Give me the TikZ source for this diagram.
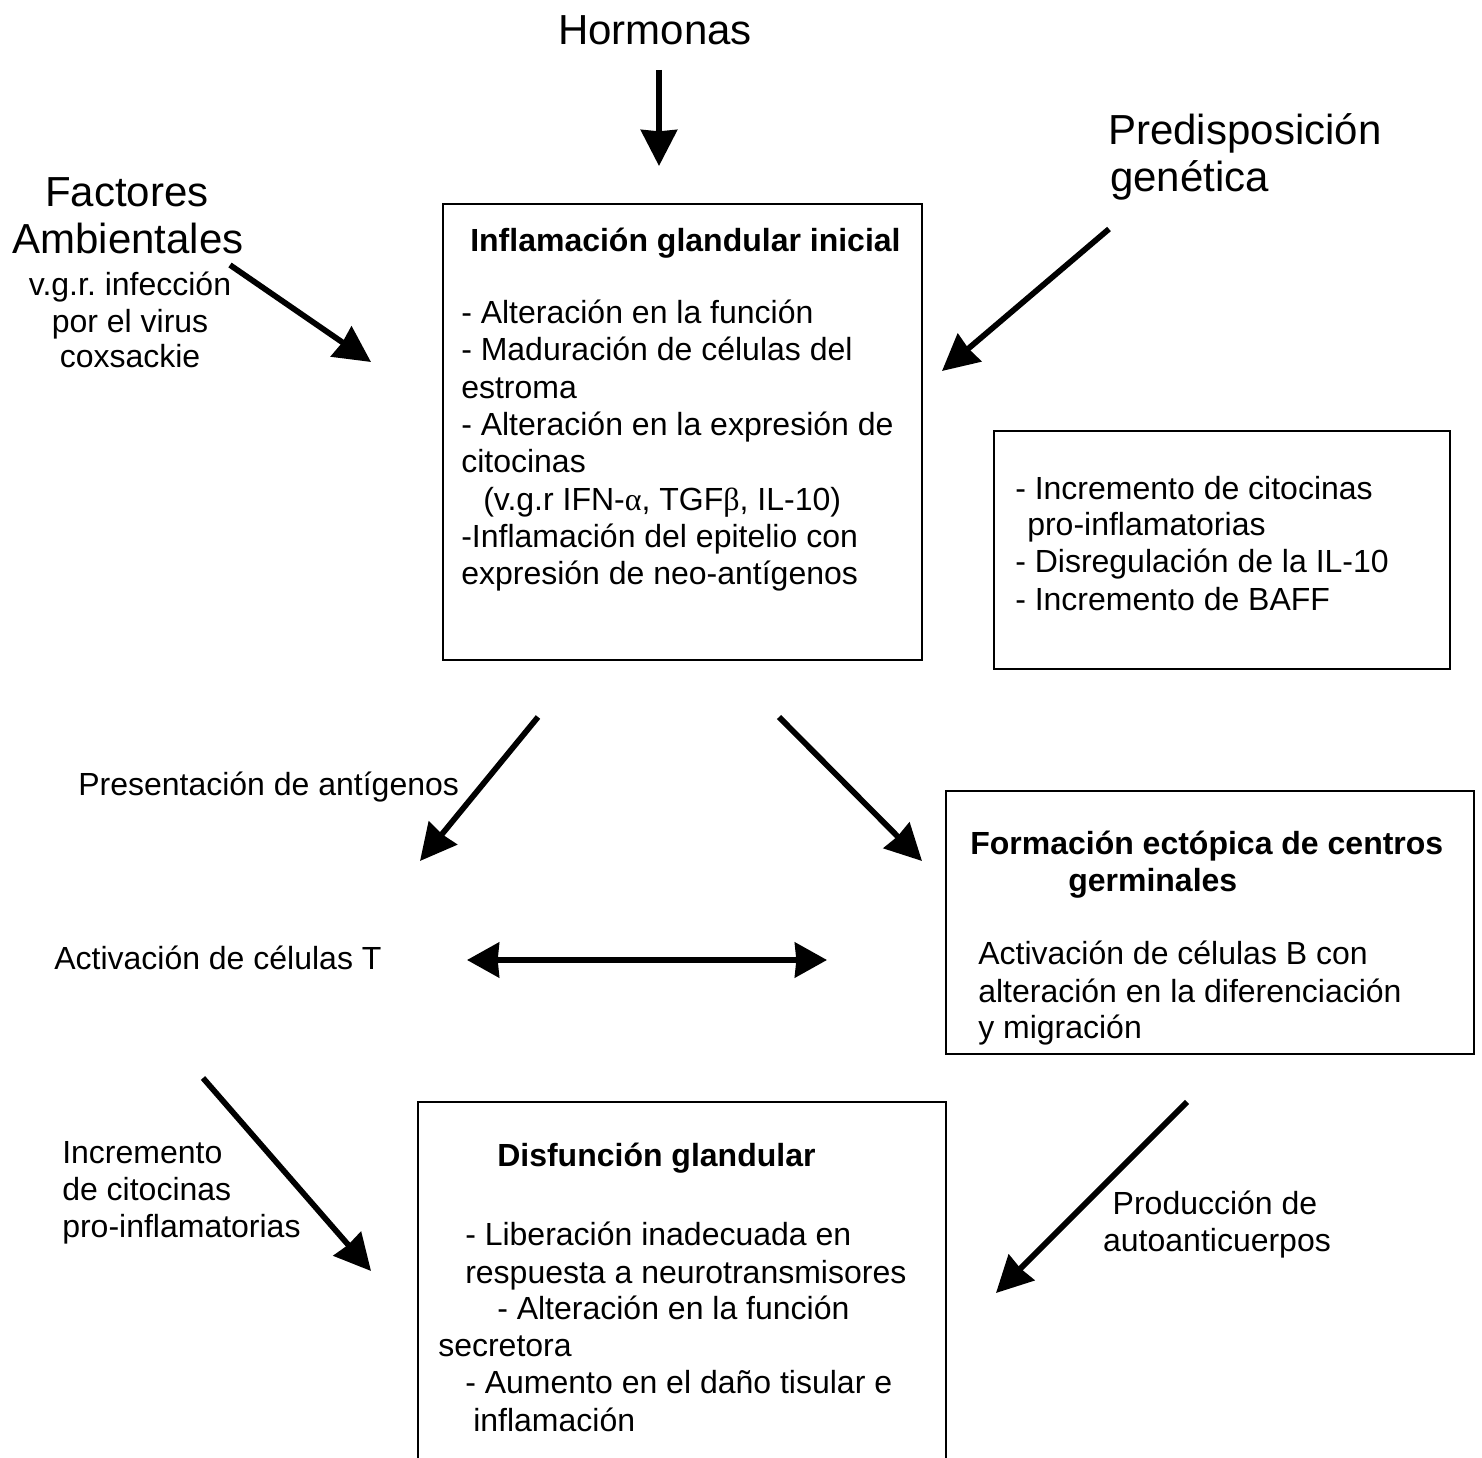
\documentclass[tikz,border=0pt]{standalone}
\usepackage{fontspec}
\setmainfont{Liberation Sans}
\newfontfamily\grk{Liberation Serif}
\usetikzlibrary{arrows.meta}
\frenchspacing
\newcommand\bodyf{\fontsize{24}{28}\selectfont}
\newcommand\bigf{\fontsize{31.5}{36}\selectfont}
\tikzset{
  txt/.style={inner sep=0pt, anchor=base west, font=\bodyf},
  ctxt/.style={inner sep=0pt, anchor=base, font=\bodyf},
  btxt/.style={inner sep=0pt, anchor=base west, font=\bodyf\bfseries},
  bigtxt/.style={inner sep=0pt, font=\bigf},
  boxframe/.style={draw, line width=1pt, inner sep=0pt},
  heavy/.style={line width=4.3pt, -{Stealth[length=27pt, width=27pt, inset=1pt]}},
  heavyboth/.style={line width=4.3pt, {Stealth[length=24pt, width=26pt, inset=1pt]}-{Stealth[length=24pt, width=26pt, inset=1pt]}}
}
\begin{document}
\begin{tikzpicture}[x=0.75pt, y=-0.75pt]
\useasboundingbox (0,0) rectangle (1482,1458);
\clip (0,0) rectangle (1482,1458);

% top labels
\node[bigtxt, anchor=base] (horm) at (655,45) {Hormonas};
\node[bigtxt, anchor=base] (fac1) at (127,207) {Factores};
\node[bigtxt, anchor=base] (fac2) at (128,254) {Ambientales};
\node[ctxt] (fac3) at (130,296) {v.g.r. infección};
\node[ctxt] (fac4) at (130,333) {por el virus};
\node[ctxt] (fac5) at (130,368) {coxsackie};
\node[bigtxt, anchor=base west] (pre1) at (1108,145) {Predisposición};
\node[bigtxt, anchor=base west] (pre2) at (1110,192) {genética};

% box 1
\draw[boxframe] (443,204) rectangle (922,660);
\node[btxt] (b1t) at (470,252) {Inflamación glandular inicial};
\node[txt] (b1a) at (461,324) {- Alteración en la función};
\node[txt] (b1b) at (461,361) {- Maduración de células del};
\node[txt] (b1c) at (461,399) {estroma};
\node[txt] (b1d) at (461,436) {- Alteración en la expresión de};
\node[txt] (b1e) at (461,473) {citocinas};
\node[txt] (b1f) at (483,511) {(v.g.r IFN-{\grk α}, TGF{\grk β}, IL-10)};
\node[txt] (b1g) at (461,548) {-Inflamación del epitelio con};
\node[txt] (b1h) at (461,585) {expresión de neo-antígenos};

% box 2
\draw[boxframe] (994,431) rectangle (1450,669);
\node[txt] (b2a) at (1015,500) {- Incremento de citocinas};
\node[txt] (b2b) at (1027,536) {pro-inflamatorias};
\node[txt] (b2c) at (1015,573) {- Disregulación de la IL-10};
\node[txt] (b2d) at (1015,611) {- Incremento de BAFF};

% middle
\node[txt] (pres) at (78,795) {Presentación de antígenos};
\node[txt] (actT) at (54,969) {Activación de células T};

% box 3
\draw[boxframe] (946,791) rectangle (1474,1054);
\node[btxt] (b3t) at (970,854) {Formación ectópica de centros};
\node[btxt] (b3u) at (1068,891) {germinales};
\node[txt] (b3a) at (978,964) {Activación de células B con};
\node[txt] (b3b) at (978,1002) {alteración en la diferenciación};
\node[txt] (b3c) at (978,1038) {y migración};

% lower left label
\node[txt] (inc1) at (62,1163) {Incremento};
\node[txt] (inc2) at (62,1200) {de citocinas};
\node[txt] (inc3) at (62,1237) {pro-inflamatorias};

% box 4
\draw[boxframe] (418,1475) -- (418,1102) -- (946,1102) -- (946,1475);
\node[btxt] (b4t) at (497,1166) {Disfunción glandular};
\node[txt] (b4a) at (465,1245) {- Liberación inadecuada en};
\node[txt] (b4b) at (465,1283) {respuesta a neurotransmisores};
\node[txt] (b4c) at (497,1319) {- Alteración en la función};
\node[txt] (b4d) at (438,1356) {secretora};
\node[txt] (b4e) at (465,1393) {- Aumento en el daño tisular e};
\node[txt] (b4f) at (473,1431) {inflamación};

% lower right label
\node[ctxt] (prod1) at (1215,1214) {Producción de};
\node[ctxt] (prod2) at (1217,1251) {autoanticuerpos};

% arrow end points
\coordinate (hA) at (659,70);   \coordinate (hB) at (659,166);
\coordinate (fA) at (230,265);  \coordinate (fB) at (371,362);
\coordinate (pA) at (1109,229); \coordinate (pB) at (942,371);
\coordinate (lA) at (538,717);  \coordinate (lB) at (420,861);
\coordinate (rA) at (779,717);  \coordinate (rB) at (922,861);
\coordinate (dA) at (467,960);  \coordinate (dB) at (827,960);
\coordinate (iA) at (203,1078); \coordinate (iB) at (371,1271);
\coordinate (aA) at (1187,1102);\coordinate (aB) at (996,1293);

\draw[heavy] (hA) -- (hB);
\draw[heavy] (fA) -- (fB);
\draw[heavy] (pA) -- (pB);
\draw[heavy] (lA) -- (lB);
\draw[heavy] (rA) -- (rB);
\draw[heavyboth] (dA) -- (dB);
\draw[heavy] (iA) -- (iB);
\draw[heavy] (aA) -- (aB);
\end{tikzpicture}
\end{document}
